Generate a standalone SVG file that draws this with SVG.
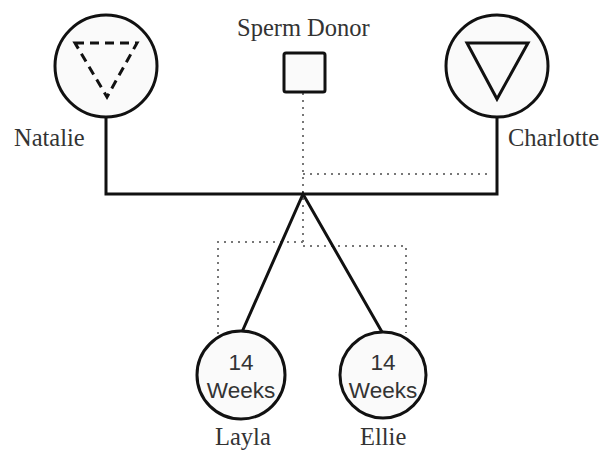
<svg xmlns="http://www.w3.org/2000/svg" width="603" height="455" viewBox="0 0 603 455">
<style>
.shape{fill:#fafafa;stroke:#111;stroke-width:3}
.solid{fill:none;stroke:#111;stroke-width:3}
.dot{fill:none;stroke:#777;stroke-width:2;stroke-dasharray:2 5}
.name{font-family:"Liberation Serif",serif;font-size:24.5px;fill:#333}
.age{font-family:"Liberation Sans",Arial,sans-serif;font-size:22.5px;fill:#333;text-anchor:middle}
</style>
<rect width="603" height="455" fill="#fff"/>
<g id="connectors">
<path class="dot" d="M303 93 V247"/>
<path class="dot" d="M303 174 H492"/>
<path class="dot" d="M303 242 H218 V335"/>
<path class="dot" d="M303 246 H406 V333"/>
<path class="solid" d="M106 117 V194 H497 V117"/>
<path class="solid" d="M242 332 L303 194 L382 332"/>
</g>
<g id="natalie">
<circle class="shape" cx="106" cy="66" r="51"/>
<path d="M75 43 H137 L107 97 Z" fill="none" stroke="#111" stroke-width="3" stroke-dasharray="9 6"/>
<text class="name" x="14" y="146">Natalie</text>
</g>
<g id="donor">
<rect class="shape" x="284" y="53" width="41" height="39" rx="2"/>
<text class="name" x="237" y="36">Sperm Donor</text>
</g>
<g id="charlotte">
<circle class="shape" cx="497" cy="66" r="51"/>
<path d="M467 43 H528 L497 99 Z" fill="none" stroke="#111" stroke-width="3"/>
<text class="name" x="508" y="146">Charlotte</text>
</g>
<g id="layla">
<circle class="shape" cx="241" cy="375" r="44"/>
<text class="age" x="241" y="370">14</text>
<text class="age" x="241" y="398">Weeks</text>
<text class="name" x="215" y="445">Layla</text>
</g>
<g id="ellie">
<circle class="shape" cx="383" cy="375" r="43"/>
<text class="age" x="383" y="370">14</text>
<text class="age" x="383" y="398">Weeks</text>
<text class="name" x="360" y="445">Ellie</text>
</g>
</svg>
